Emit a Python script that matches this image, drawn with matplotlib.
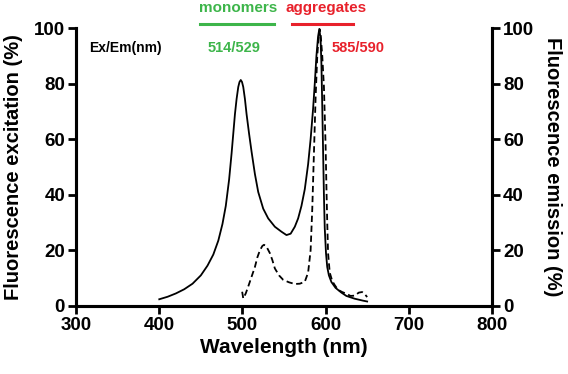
import matplotlib
matplotlib.use('Agg')
import matplotlib.pyplot as plt

plt.rcParams['font.family'] = ['Liberation Sans', 'DejaVu Sans']
plt.rcParams['font.weight'] = 'bold'

# excitation (solid)
ex_wl = [400, 410, 420, 430, 440, 450, 458, 465, 471, 476, 480, 484, 487, 489, 491,
         493, 495, 496.5, 498, 499.5, 501, 503, 505, 508, 511, 515, 519, 525, 531, 539, 547,
         553, 558, 563, 567, 571, 575, 579, 582, 585, 587, 589, 591, 592.5, 594, 595,
         596, 597, 598, 599, 600.5, 602, 604, 607, 612, 619, 625, 635, 645, 650]
ex_val = [2.4, 3.3, 4.5, 6.0, 8.0, 11, 14.5, 18.5, 23.5, 29.5, 36, 45.5, 55, 62, 69,
          74.5, 78.8, 80.6, 81.3, 80.6, 78.8, 74.5, 69, 62, 55.5, 47.5, 41, 35, 31.5, 28.5, 26.7,
          25.5, 26, 28.5, 31.5, 36, 42, 51, 60, 71, 80, 90, 97, 99.7, 96, 87,
          72, 56, 40, 28, 19, 14, 11, 8.6, 6.5, 4.8, 3.6, 2.6, 1.9, 1.6]

# emission (dashed)
em_wl = [499.7, 501, 504, 507, 511, 515, 518, 521, 524, 526, 529, 533, 536, 539,
         544, 549, 556, 563, 569, 575, 579, 582, 584, 586, 588, 590, 592, 593, 594,
         596, 598, 600, 601, 602, 603, 605, 608, 611, 615, 620, 625, 630, 635, 640,
         644, 647, 650]
em_val = [5.1, 2.7, 4.5, 7, 10.5, 14, 17.5, 20, 21.6, 22, 21.3, 19, 16.5, 13.5,
          11, 9.4, 8.5, 7.9, 8.0, 8.7, 12, 20, 35, 55, 75, 90, 98, 99.5, 98,
          90, 79, 58, 43, 30, 19, 12, 9, 7.5, 5.8, 5.0, 4.4, 3.6, 3.7, 4.8,
          5.0, 4.3, 3.2]

yticks = [0, 20, 40, 60, 80, 100]
xticks = [300, 400, 500, 600, 700, 800]

green = '#3db54a'
red = '#e8212b'

fig = plt.figure(figsize=(5.68, 3.74), dpi=100)
ax = fig.add_axes([0.134, 0.182, 0.732, 0.743])
ax2 = ax.twinx()

ax.plot(ex_wl, ex_val, color='black', lw=1.3)
ax2.plot(em_wl, em_val, color='black', lw=1.3, linestyle=(0, (3.5, 2)))

for a in (ax, ax2):
    a.set_xlim(300, 800)
    a.set_ylim(0, 100)
    a.set_yticks(yticks)
    a.spines['top'].set_visible(False)
    for s in a.spines.values():
        s.set_linewidth(2.2)
    a.tick_params(width=2.0, length=6, labelsize=13.5, direction='out', pad=2)
    for lab in a.get_yticklabels():
        lab.set_fontweight('bold')

ax.set_xticks(xticks)
for lab in ax.get_xticklabels():
    lab.set_fontweight('bold')

ax.set_xlabel('Wavelength (nm)', fontsize=15, fontweight='bold', labelpad=3)
ax.set_ylabel('Fluorescence excitation (%)', fontsize=14.5, fontweight='bold', labelpad=8)
ax2.set_ylabel('Fluorescence emission (%)', fontsize=14.5, fontweight='bold',
               rotation=270, labelpad=20)

# annotations
ax.text(316, 93, 'Ex/Em(nm)', fontsize=10, fontweight='bold', va='center', ha='left')
ax.text(490, 93, '514/529', fontsize=10.5, fontweight='bold', color=green, va='center', ha='center')
ax.text(639, 93, '585/590', fontsize=10.5, fontweight='bold', color=red, va='center', ha='center')
ax.text(495, 107.2, 'monomers', fontsize=11, fontweight='bold', color=green,
        va='center', ha='center', clip_on=False)
ax.text(600, 107.2, 'aggregates', fontsize=11, fontweight='bold', color=red,
        va='center', ha='center', clip_on=False)
ax.plot([449, 538], [101.4, 101.4], color=green, lw=2.2, clip_on=False)
ax.plot([560, 633], [101.4, 101.4], color=red, lw=2.2, clip_on=False)

fig.savefig('out.png', dpi=100)
